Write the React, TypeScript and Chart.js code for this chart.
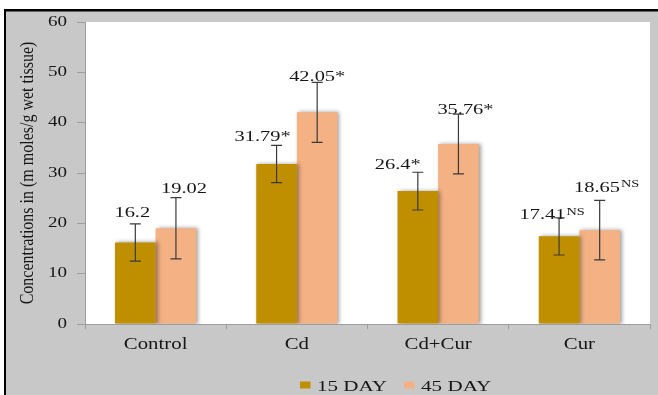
import React, { useEffect, useRef } from "react";
import { Chart, registerables } from "chart.js";

Chart.register(...registerables);

// Groups and measured concentrations (n moles/g wet tissue)
const categories = ["Control", "Cd", "Cd+Cur", "Cur"];
const seriesNames = ["15 DAY", "45 DAY"];
const day15 = [16.2, 31.79, 26.4, 17.41];
const day45 = [19.02, 42.05, 35.76, 18.65];
// Standard deviations shown as error bars
const err15 = [3.7, 3.7, 3.75, 3.7];
const err45 = [6.1, 5.95, 5.95, 5.9];
// Significance marks appended to each value label
const sig15 = ["", "*", "*", "NS"];
const sig45 = ["", "*", "*", "NS"];
// Y axis ticks
const yMin = 0;
const yMax = 60;
const yStep = 10;
const yTitle = "Concentrations in (m moles/g wet tissue)";

const COLOR_15 = "#bf8f00";
const COLOR_45 = "#f4b183";
const PANEL_GRAY = "#c8c8c8";
const AXIS_GRAY = "#9e9e9e";
const TEXT = "#161616";
const SERIF = "'Liberation Serif', 'Times New Roman', serif";
// Text in this figure is set wide: glyphs are stretched horizontally
const STRETCH = 1.36;

// Hand placement of the value labels: [dx, gap above error cap]
const labelNudge15 = [
  [-3, 12],
  [-14, 9],
  [-20, 8],
  [-7, 3.5],
];
const labelNudge45 = [
  [8, 10],
  [0, 6],
  [7, 5],
  [7, 13.5],
];

function wideText(
  ctx: CanvasRenderingContext2D,
  text: string,
  x: number,
  y: number,
  font: string,
  align: CanvasTextAlign,
  baseline: CanvasTextBaseline,
  sx = STRETCH
) {
  ctx.save();
  ctx.font = font;
  ctx.fillStyle = TEXT;
  ctx.textAlign = align;
  ctx.textBaseline = baseline;
  ctx.translate(x, y);
  ctx.scale(sx, 1);
  ctx.fillText(text, 0, 0);
  ctx.restore();
}

function wideWidth(ctx: CanvasRenderingContext2D, text: string, font: string, sx = STRETCH) {
  ctx.save();
  ctx.font = font;
  const w = ctx.measureText(text).width * sx;
  ctx.restore();
  return w;
}

const decorPlugin = {
  id: "decor",
  beforeDraw(chart: any) {
    const { ctx, width, height, chartArea } = chart;
    ctx.save();
    ctx.fillStyle = "#ffffff";
    ctx.fillRect(0, 0, width, height);
    ctx.fillStyle = PANEL_GRAY;
    ctx.fillRect(6, 11, width - 6, height - 11);
    ctx.fillStyle = "#000000";
    ctx.fillRect(4, 9, width - 4, 2.5);
    ctx.fillRect(4, 9, 2, height - 9);
    ctx.fillStyle = "#ffffff";
    ctx.fillRect(
      chartArea.left,
      chartArea.top,
      chartArea.right - chartArea.left,
      chartArea.bottom - chartArea.top
    );
    ctx.restore();
  },
  beforeDatasetsDraw(chart: any) {
    const ctx = chart.ctx;
    ctx.save();
    ctx.shadowColor = "rgba(0,0,0,0.38)";
    ctx.shadowBlur = 4;
    ctx.shadowOffsetX = 2;
    ctx.shadowOffsetY = 0;
  },
  afterDatasetsDraw(chart: any) {
    const ctx = chart.ctx;
    ctx.restore();
    const yScale = chart.scales.y;
    const groups = [
      { vals: day15, errs: err15, sig: sig15, nudge: labelNudge15 },
      { vals: day45, errs: err45, sig: sig45, nudge: labelNudge45 },
    ];
    const mainFont = `15px ${SERIF}`;
    const supFont = `10.5px ${SERIF}`;
    groups.forEach((g, di) => {
      const meta = chart.getDatasetMeta(di);
      meta.data.forEach((bar: any, i: number) => {
        const v = g.vals[i];
        const e = g.errs[i];
        const x = bar.x;
        const yTop = yScale.getPixelForValue(v + e);
        const yBot = yScale.getPixelForValue(v - e);
        // error bar
        ctx.save();
        ctx.strokeStyle = "#3a3a3a";
        ctx.lineWidth = 1.2;
        ctx.beginPath();
        ctx.moveTo(x, yTop);
        ctx.lineTo(x, yBot);
        ctx.moveTo(x - 5.5, yTop);
        ctx.lineTo(x + 5.5, yTop);
        ctx.moveTo(x - 5.5, yBot);
        ctx.lineTo(x + 5.5, yBot);
        ctx.stroke();
        ctx.restore();

        // value label with significance mark
        const mark = g.sig[i];
        const isSup = mark === "NS";
        const main = String(v) + (isSup ? "" : mark);
        const sup = isSup ? mark : "";
        const w1 = wideWidth(ctx, main, mainFont);
        const w2 = sup ? wideWidth(ctx, sup, supFont) + 1 : 0;
        const cx = x + g.nudge[i][0];
        const cy = yTop - g.nudge[i][1];
        const base = cy + 5;
        const left = cx - (w1 + w2) / 2;
        wideText(ctx, main, left, base, mainFont, "left", "alphabetic");
        if (sup) wideText(ctx, sup, left + w1 + 1, base - 4.5, supFont, "left", "alphabetic");
      });
    });
  },
  afterDraw(chart: any) {
    const { ctx, chartArea, scales } = chart;

    // y tick labels
    const yScale = scales.y;
    yScale.ticks.forEach((t: any) => {
      const py = yScale.getPixelForValue(t.value);
      wideText(ctx, String(t.value), 67, py, `14px ${SERIF}`, "right", "middle");
    });

    // category labels
    const xScale = scales.x;
    categories.forEach((c, i) => {
      const px = xScale.getPixelForTick(i);
      wideText(ctx, c, px, 349, `16px ${SERIF}`, "center", "alphabetic", 1.3);
    });

    // rotated y axis title
    ctx.save();
    ctx.fillStyle = TEXT;
    ctx.font = `16px ${SERIF}`;
    ctx.textAlign = "center";
    ctx.textBaseline = "middle";
    ctx.translate(28, (chartArea.top + chartArea.bottom) / 2);
    ctx.rotate(-Math.PI / 2);
    ctx.scale(1, 1.2);
    ctx.fillText(yTitle, 0, 0);
    ctx.restore();

    // legend
    const legendFont = `15.5px ${SERIF}`;
    let lx = 300;
    const colors = [COLOR_15, COLOR_45];
    seriesNames.forEach((name, k) => {
      ctx.save();
      ctx.fillStyle = colors[k];
      ctx.fillRect(lx, 381.5, 10.5, 7);
      ctx.restore();
      wideText(ctx, name, lx + 17, 390.5, legendFont, "left", "alphabetic");
      lx += 17 + wideWidth(ctx, name, legendFont) + 17;
    });
  },
};

export default function App() {
  const canvasRef = useRef<HTMLCanvasElement | null>(null);

  useEffect(() => {
    const canvas = canvasRef.current;
    if (!canvas) return;
    const chart = new Chart(canvas, {
      type: "bar",
      data: {
        labels: categories,
        datasets: [
          {
            label: seriesNames[0],
            data: day15,
            backgroundColor: COLOR_15,
            borderWidth: 0,
            categoryPercentage: 0.575,
            barPercentage: 1,
          },
          {
            label: seriesNames[1],
            data: day45,
            backgroundColor: COLOR_45,
            borderWidth: 0,
            categoryPercentage: 0.575,
            barPercentage: 1,
          },
        ],
      },
      options: {
        responsive: false,
        animation: false,
        devicePixelRatio: 1,
        layout: { padding: { left: 0, top: 22, right: 8, bottom: 0 } },
        plugins: {
          legend: { display: false },
          tooltip: { enabled: false },
        },
        scales: {
          x: {
            grid: {
              display: true,
              drawOnChartArea: false,
              drawTicks: true,
              tickLength: 5,
              color: AXIS_GRAY,
              offset: true,
            },
            border: { display: true, color: AXIS_GRAY, width: 1 },
            ticks: {
              color: "rgba(0,0,0,0)",
              font: { family: SERIF, size: 16 },
              padding: 7,
            },
            afterFit(scale: any) {
              scale.height = 71;
            },
          },
          y: {
            min: yMin,
            max: yMax,
            grid: {
              display: true,
              drawOnChartArea: false,
              drawTicks: true,
              tickLength: 8,
              color: AXIS_GRAY,
            },
            border: { display: true, color: AXIS_GRAY, width: 1 },
            ticks: {
              stepSize: yStep,
              color: "rgba(0,0,0,0)",
              font: { family: SERIF, size: 14 },
              padding: 10,
            },
            afterFit(scale: any) {
              scale.width = 85;
            },
          },
        },
      },
      plugins: [decorPlugin],
    });
    return () => chart.destroy();
  }, []);

  return (
    <div style={{ position: "absolute", left: 0, top: 0, width: 658, height: 395 }}>
      <canvas ref={canvasRef} width={658} height={395} />
    </div>
  );
}
